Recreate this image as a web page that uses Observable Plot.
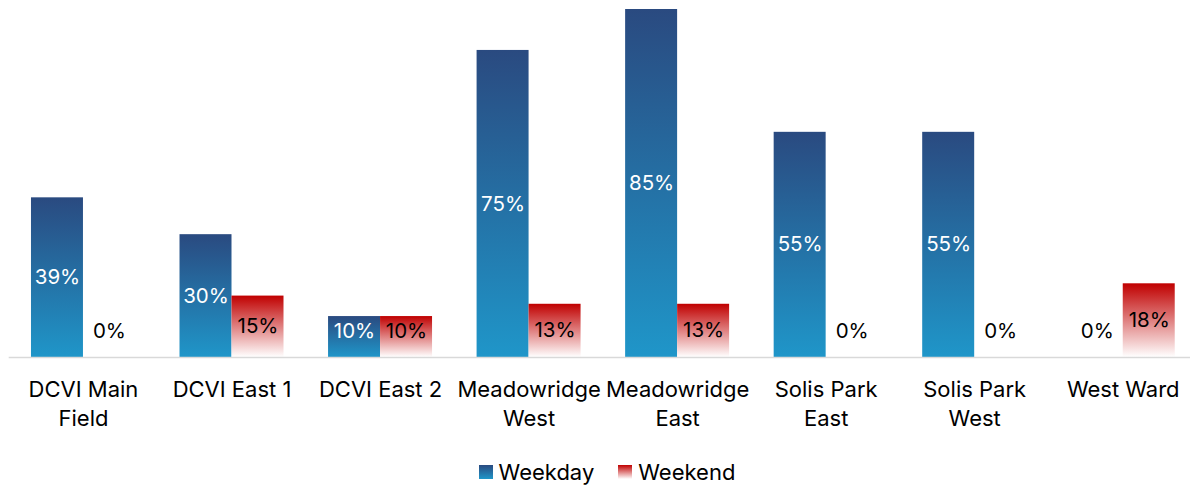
<!DOCTYPE html>
<html>
<head>
<meta charset="utf-8">
<script src="https://cdn.jsdelivr.net/npm/d3@7"></script>
<script src="https://cdn.jsdelivr.net/npm/@observablehq/plot@0.6"></script>
<style>
  html, body { margin: 0; padding: 0; background: #fff; }
  body { width: 1190px; height: 485px; overflow: hidden; font-family: Inter, "Open Sans", sans-serif; }
  #legend { display: flex; justify-content: center; align-items: center; height: 54px; font-size: 22px; color: #000; padding-left: 24px; }
  .item { display: flex; align-items: center; margin: 0 12px; }
  .sw { width: 14px; height: 14px; margin-right: 6px; }
</style>
</head>
<body>
<div id="chart"></div>
<div id="legend"></div>
<script>
// Share of fields in use, by site, weekday vs weekend (percent)
const categories = [
  "DCVI Main\nField", "DCVI East 1", "DCVI East 2", "Meadowridge\nWest",
  "Meadowridge\nEast", "Solis Park\nEast", "Solis Park\nWest", "West Ward"
];
const weekday = [39, 30, 10, 75, 85, 55, 55, 0];
const weekend = [0, 15, 10, 13, 13, 0, 0, 18];
const seriesNames = ["Weekday", "Weekend"];

const rows = categories.flatMap((c, i) => [
  {site: c, series: "Weekday", value: weekday[i]},
  {site: c, series: "Weekend", value: weekend[i]}
]);
const wd = rows.filter(d => d.series === "Weekday");
const we = rows.filter(d => d.series === "Weekend");
// labels sit mid-bar, but never closer to the baseline than a small floor
const labelY = d => Math.max(d.value / 2, 6.35);

const font = "Inter, 'Open Sans', sans-serif";

const plot = Plot.plot({
  width: 1190,
  height: 445,
  marginTop: 9,
  marginBottom: 88,
  marginLeft: 8.7,
  marginRight: -7,
  style: {fontFamily: font, fontSize: "21px", background: "#fff", overflow: "visible"},
  x: {domain: categories, paddingInner: 0.65, paddingOuter: 0.325, round: false, label: null},
  y: {domain: [0, 85], axis: null},
  marks: [
    Plot.barY(wd, {x: "site", y: "value", dx: -26, fill: "url(#gradWeekday)"}),
    Plot.barY(we, {x: "site", y: "value", dx: 26, fill: "url(#gradWeekend)"}),
    Plot.ruleY([0], {stroke: "#d9d9d9", strokeWidth: 1.5}),
    Plot.text(wd, {x: "site", y: labelY, dx: -26, text: d => `${d.value}%`,
      fill: d => d.value > 0 ? "#fff" : "#000", fontSize: 20.5}),
    Plot.text(we, {x: "site", y: labelY, dx: 26, text: d => `${d.value}%`,
      fill: "#000", fontSize: 20.5}),
    Plot.axisX({tickSize: 0, tickPadding: 19, fontSize: 22, lineHeight: 1.32, fill: "#000", label: null})
  ]
});

const svg = d3.select(plot);
const defs = svg.insert("defs", ":first-child");
const g1 = defs.append("linearGradient").attr("id", "gradWeekday")
  .attr("x1", 0).attr("y1", 0).attr("x2", 0).attr("y2", 1);
g1.append("stop").attr("offset", "0%").attr("stop-color", "#2a4a80");
g1.append("stop").attr("offset", "100%").attr("stop-color", "#1f96c9");
const g2 = defs.append("linearGradient").attr("id", "gradWeekend")
  .attr("x1", 0).attr("y1", 0).attr("x2", 0).attr("y2", 1);
g2.append("stop").attr("offset", "0%").attr("stop-color", "#c00000");
g2.append("stop").attr("offset", "100%").attr("stop-color", "#ffffff");

document.getElementById("chart").append(plot);

const swatches = {
  Weekday: "linear-gradient(to bottom, #2a4a80, #1f96c9)",
  Weekend: "linear-gradient(to bottom, #c00000, #ffffff)"
};
const legend = d3.select("#legend");
for (const s of seriesNames) {
  const item = legend.append("div").attr("class", "item");
  item.append("div").attr("class", "sw").style("background", swatches[s]);
  item.append("span").text(s);
}
</script>
</body>
</html>
